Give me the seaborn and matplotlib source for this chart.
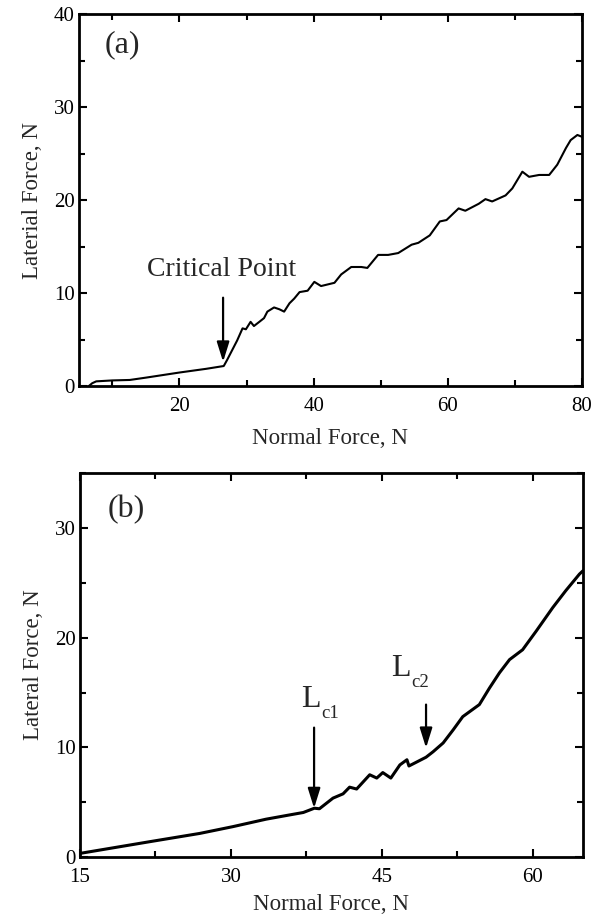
import matplotlib
matplotlib.use("Agg")
import matplotlib.pyplot as plt
import seaborn as sns
import pandas as pd
from matplotlib.ticker import MultipleLocator

# ---------------- data ----------------
# Panel (a)
a_normal = [6.5, 7.0, 7.6, 10.0, 12.6, 15.0, 20.0, 24.0, 26.6, 27.1, 28.1, 28.6, 29.4, 29.9,
            30.6, 31.1, 31.9, 32.6, 33.1, 34.1, 34.9, 35.6, 36.4, 37.1, 37.9, 39.1, 40.1,
            41.1, 43.1, 44.1, 45.6, 47.1, 48.0, 49.6, 51.1, 52.6, 54.6, 55.6, 57.3, 58.8,
            59.8, 61.6, 62.6, 64.6, 65.6, 66.6, 68.6, 69.6, 71.1, 72.1, 73.6, 75.1, 76.3,
            77.6, 78.3, 79.3, 80.0]
a_lateral = [0.0, 0.3, 0.5, 0.6, 0.65, 0.9, 1.45, 1.85, 2.15, 2.8, 4.2, 4.9, 6.2, 6.1,
             6.9, 6.45, 6.9, 7.3, 8.0, 8.45, 8.25, 8.0, 8.9, 9.4, 10.1, 10.25, 11.2,
             10.75, 11.1, 12.0, 12.8, 12.8, 12.7, 14.1, 14.1, 14.3, 15.2, 15.4, 16.2, 17.7,
             17.85, 19.1, 18.85, 19.6, 20.1, 19.85, 20.5, 21.25, 23.05, 22.5, 22.7, 22.7, 23.8,
             25.6, 26.45, 27.0, 26.8]

# Panel (b)
b_normal = [15.0, 21.95, 26.9, 30.2, 33.5, 35.85, 37.2, 38.3, 38.8, 40.15, 41.15, 41.8, 42.5,
            43.8, 44.5, 45.1, 45.9, 46.8, 47.5, 47.7, 49.4, 50.1, 51.1, 52.1, 53.05, 54.7,
            55.7, 56.7, 57.7, 59.0, 60.35, 62.0, 63.3, 64.65, 65.0]
b_lateral = [0.33, 1.4, 2.15, 2.77, 3.45, 3.84, 4.06, 4.45, 4.4, 5.37, 5.76, 6.37, 6.2,
             7.5, 7.2, 7.7, 7.2, 8.4, 8.87, 8.3, 9.1, 9.6, 10.4, 11.6, 12.8, 13.9,
             15.4, 16.8, 18.0, 18.9, 20.6, 22.75, 24.3, 25.8, 26.1]

a_xticks = [20, 40, 60, 80]
a_yticks = [0, 10, 20, 30, 40]
b_xticks = [15, 30, 45, 60]
b_yticks = [0, 10, 20, 30]

df_a = pd.DataFrame({"Normal Force, N": a_normal, "Lateral Force, N": a_lateral})
df_b = pd.DataFrame({"Normal Force, N": b_normal, "Lateral Force, N": b_lateral})

# ---------------- style ----------------
sns.set_theme(style="ticks")
plt.rcParams["font.family"] = ["Liberation Serif", "DejaVu Serif"]

fig = plt.figure(figsize=(5.97, 9.16), dpi=100)
ax1 = fig.add_axes([0.132, 0.5786, 0.843, 0.406])
ax2 = fig.add_axes([0.134, 0.0644, 0.8425, 0.419])

sns.lineplot(data=df_a, x="Normal Force, N", y="Lateral Force, N", ax=ax1,
             color="black", lw=1.5, sort=False, estimator=None)
sns.lineplot(data=df_b, x="Normal Force, N", y="Lateral Force, N", ax=ax2,
             color="black", lw=2.2, sort=False, estimator=None)


def style_axes(ax, xlim, ylim, xticks, yticks, xminor, yminor, xlabelpad):
    ax.set_xlim(*xlim)
    ax.set_ylim(*ylim)
    ax.set_xticks(xticks)
    ax.set_yticks(yticks)
    ax.xaxis.set_minor_locator(MultipleLocator(xminor))
    ax.yaxis.set_minor_locator(MultipleLocator(yminor))
    ax.tick_params(which="both", direction="in", top=True, right=True,
                   colors="black", width=1.5)
    ax.tick_params(which="major", length=6, labelsize=15)
    ax.tick_params(which="minor", length=4)
    ax.tick_params(axis="x", pad=8)
    ax.tick_params(axis="y", pad=3)
    for s in ax.spines.values():
        s.set_linewidth(2.0)
        s.set_color("black")
    ax.set_xlabel("Normal Force, N", fontsize=16.5, labelpad=xlabelpad)


style_axes(ax1, (5, 80), (0, 40), a_xticks, a_yticks, 10, 5, 8.5)
style_axes(ax2, (15, 65), (0, 35), b_xticks, b_yticks, 7.5, 5, 5)
ax1.set_ylabel("Laterial Force, N", fontsize=16.5, labelpad=8)
ax2.set_ylabel("Lateral Force, N", fontsize=16.5, labelpad=8)

ax1.text(0.052, 0.917, "(a)", transform=ax1.transAxes, fontsize=23, va="center", ha="left")
ax2.text(0.054, 0.904, "(b)", transform=ax2.transAxes, fontsize=23, va="center", ha="left")

arrow = dict(arrowstyle="-|>,head_length=0.8,head_width=0.25", color="black", lw=1.6,
             shrinkA=0, shrinkB=0, mutation_scale=15)

ax1.text(26.3, 11.8, "Critical Point", fontsize=20, ha="center", va="baseline")
ax1.annotate("", xy=(26.5, 2.6), xytext=(26.5, 9.5), arrowprops=arrow)


def crit_label(ax, x, y, sub):
    ax.text(x, y, "L", fontsize=23, ha="left", va="baseline")
    ax.annotate(sub, xy=(x, y), xytext=(14.5, -8), textcoords="offset points",
                fontsize=13.5, ha="left", va="baseline")


crit_label(ax2, 37.0, 13.7, "c1")
ax2.annotate("", xy=(38.27, 4.45), xytext=(38.27, 11.8), arrowprops=arrow)
crit_label(ax2, 45.9, 16.5, "c2")
ax2.annotate("", xy=(49.4, 9.95), xytext=(49.4, 13.9), arrowprops=arrow)

fig.savefig("out.png", dpi=100)
